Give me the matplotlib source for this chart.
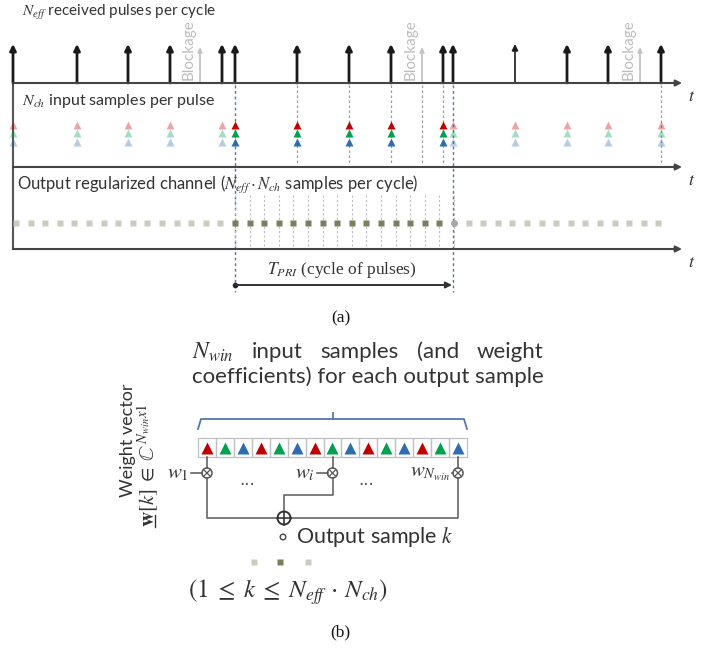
"""Pulse-to-regularized-channel diagram: (a) timing rows, (b) window weighting."""
import matplotlib

matplotlib.use("Agg")
import matplotlib.pyplot as plt
from matplotlib.patches import Circle, Rectangle

plt.rcParams["mathtext.fontset"] = "stix"
SANS = ["Lato", "DejaVu Sans"]
SERIF = ["Liberation Serif", "DejaVu Serif"]
INK = "#333333"

# ---- data (pixel positions along t) ----
PULSE_T = [13, 77, 128, 170, 222, 235, 297, 349, 391, 443, 453, 515, 567, 608, 661]
PULSE_LW = [2.0, 2.0, 2.0, 2.0, 2.0, 2.0, 2.0, 2.0, 2.0, 2.0, 2.0, 1.2, 2.0, 2.0, 2.0]
BLOCKAGE_T = [200, 422, 640]
CYCLE = (235, 453)
GUIDE_T = [297, 349, 391, 422, 443, 661]          # grey dashed guides in the cycle
CH_COLORS = ["#c00000", "#00a050", "#2e6db4"]      # N_ch = 3 channels
N_BEFORE, N_CYCLE, N_AFTER = 15, 15, 14             # output samples
OUT_STEP = 14.6
WIN_CHANNELS = [0, 1, 2] * 5                        # N_win = 15 window cells
TAPS = [0, 7, 14]
TAP_LABELS = [r"$w_1$", r"$w_i$", r"$w_{N_{win}}$"]
TAP_GAP = [20, 20, 10]

# ---- rows (y pixel) ----
Y_AX1, Y_AX2, Y_AX3 = 83, 167, 249
X0, X_END = 13, 682


def time_axis(ax, y):
    ax.annotate("", xy=(X_END, y), xytext=(X0, y),
                arrowprops=dict(arrowstyle="-|>", color="#444444", lw=1.5,
                                mutation_scale=9, shrinkA=0, shrinkB=0))
    ax.text(688, y + 13, r"$t$", fontsize=13, color=INK, ha="left", va="center")


def vline(ax, x, y1, y2, color="#9a9a9a", lw=0.9):
    ax.plot([x, x], [y1, y2], color=color, lw=lw, ls=(0, (2, 2)), zorder=1)


def otimes(ax, x, y, r=5):
    ax.add_patch(Circle((x, y), r, fill=False, ec="#555555", lw=1.1, zorder=3))
    d = r * 0.55
    ax.plot([x - d, x + d], [y - d, y + d], color="#555555", lw=0.9, zorder=3)
    ax.plot([x - d, x + d], [y + d, y - d], color="#555555", lw=0.9, zorder=3)


def oplus(ax, x, y, r=6.5):
    ax.add_patch(Circle((x, y), r, fill=False, ec="#333333", lw=1.4, zorder=3))
    ax.plot([x - r, x + r], [y, y], color="#333333", lw=1.2, zorder=3)
    ax.plot([x, x], [y - r, y + r], color="#333333", lw=1.2, zorder=3)


def draw_part_a(ax):
    in_cycle = [CYCLE[0] <= t < CYCLE[1] for t in PULSE_T]

    # row 1: received pulses
    ax.text(22, 13, r"$N_{eff}$ received pulses per cycle", fontsize=11,
            family=SANS, color=INK, va="center")
    for t, lw in zip(PULSE_T, PULSE_LW):
        ax.annotate("", xy=(t, 44), xytext=(t, Y_AX1),
                    arrowprops=dict(arrowstyle="-|>", color="#1a1a1a", lw=lw,
                                    mutation_scale=9, shrinkA=0, shrinkB=0))
    for t in BLOCKAGE_T:
        ax.annotate("", xy=(t, 47), xytext=(t, Y_AX1),
                    arrowprops=dict(arrowstyle="-|>", color="#c4c4c4", lw=1.3,
                                    mutation_scale=7, shrinkA=0, shrinkB=0))
        ax.text(t - 11, 50, "Blockage", rotation=90, fontsize=11, family=SANS,
                color="#bdbdbd", ha="center", va="center")

    # left frame
    ax.plot([X0, X0], [Y_AX1, Y_AX3], color="#555555", lw=1.5)
    for y in (Y_AX1, Y_AX2, Y_AX3):
        time_axis(ax, y)

    # guides
    for t in GUIDE_T:
        vline(ax, t, Y_AX1 + 2, Y_AX2 - 3)
    for t in CYCLE:
        vline(ax, t, Y_AX1 + 2, 292, color="#5a6f9c", lw=1.0)

    # row 2: input samples per pulse
    ax.text(22, 101, r"$N_{ch}$ input samples per pulse", fontsize=11.5,
            family=SANS, color=INK, va="center")
    for t, inside in zip(PULSE_T, in_cycle):
        for c, y in zip(CH_COLORS, (125, 133, 142)):
            ax.plot(t, y, marker="^", ms=5.5, color=c, mec="none",
                    alpha=1.0 if inside else 0.35, zorder=4)

    # row 3: regularized output samples
    ax.text(17, 184, r"Output regularized channel ($N_{eff}\cdot N_{ch}$ samples per cycle)",
            fontsize=12, family=SANS, color=INK, va="center")
    x_before = [CYCLE[0] - OUT_STEP * (i + 1) for i in range(N_BEFORE)]
    x_cycle = [CYCLE[0] + OUT_STEP * i for i in range(N_CYCLE)]
    x_after = [CYCLE[0] + OUT_STEP * (N_CYCLE + i) for i in range(N_AFTER + 1)]
    for x in x_cycle + x_after[:1]:
        vline(ax, x, 195, Y_AX3 - 1, color="#bdbdbd", lw=0.8)
    ax.plot(x_before, [223] * len(x_before), "s", ms=4.6, color="#cbccbd", mec="none")
    ax.plot(x_after[1:], [223] * (len(x_after) - 1), "s", ms=4.6, color="#cbccbd", mec="none")
    ax.plot(x_cycle, [223] * len(x_cycle), "s", ms=4.8, color="#7b7f5c", mec="none", zorder=4)
    ax.plot(x_after[0], 223, "o", ms=5, color="#a8a8a8", mec="none", zorder=4)

    # T_PRI span
    ax.annotate("", xy=(CYCLE[1] - 1, 285), xytext=(CYCLE[0], 285),
                arrowprops=dict(arrowstyle="-|>", color="#333333", lw=1.4,
                                mutation_scale=9, shrinkA=0, shrinkB=0))
    ax.plot(CYCLE[0], 285, "o", ms=3, color="#222222")
    ax.text((CYCLE[0] + CYCLE[1]) / 2 - 2, 270, r"$T_{PRI}$ (cycle of pulses)",
            fontsize=12.5, family=SERIF, color=INK, ha="center", va="center")
    ax.text(341, 318, "(a)", fontsize=12.5, family=SERIF, color="#111111",
            ha="center", va="center")


def draw_part_b(ax, renderer):
    # heading: two justified lines
    y1, y2 = 352, 377
    line2 = ax.text(192, y2, "coefficients) for each output sample", fontsize=16,
                    family=SANS, color=INK, va="center")
    right_edge = line2.get_window_extent(renderer).x1
    words = [ax.text(0, y1, r"$N_{win}$", fontsize=17, color=INK, va="center")]
    words += [ax.text(0, y1, w, fontsize=16, family=SANS, color=INK, va="center")
              for w in ["input", "samples", "(and", "weight"]]
    widths = [w.get_window_extent(renderer).width for w in words]
    gap = (right_edge - 192 - sum(widths)) / (len(words) - 1)
    x = 192
    for w, wd in zip(words, widths):
        w.set_x(x)
        x += wd + gap

    # brace
    left, right = 198, 467
    bc = "#5577a8"
    ax.plot([left, left + 3, right - 3, right], [429, 419, 419, 429], color=bc, lw=1.3)
    mid = (left + right) / 2
    ax.plot([mid, mid], [419, 413], color=bc, lw=1.3)

    # window cells
    n = len(WIN_CHANNELS)
    cw = (right - left) / n
    for i, ch in enumerate(WIN_CHANNELS):
        cx = left + i * cw
        ax.add_patch(Rectangle((cx, 438), cw, 19, fill=False, ec="#c0c0c0", lw=0.9))
        ax.plot(cx + cw / 2, 448, marker="^", ms=8, color=CH_COLORS[ch], mec="none")

    # taps
    y_tap = 473
    tap_x = [left + (i + 0.5) * cw for i in TAPS]
    for tx, lab, g in zip(tap_x, TAP_LABELS, TAP_GAP):
        ax.plot([tx, tx], [457, y_tap - 5], color="#555555", lw=1.1)
        otimes(ax, tx, y_tap)
        ax.plot([tx - g + 4, tx - 5], [y_tap, y_tap], color="#555555", lw=1.1)
        ax.text(tx - g + 2, y_tap, lab, fontsize=15, color=INK, ha="right", va="center")
    ax.text(247, 480, "...", fontsize=12, color="#555555", ha="center", va="center")
    ax.text(366, 480, "...", fontsize=12, color="#555555", ha="center", va="center")

    # summation network
    sx, sy = 284, 518
    lc = "#666666"
    ax.plot([tap_x[0], tap_x[0], sx - 6.5], [y_tap + 5, sy, sy], color=lc, lw=1.2)
    ax.plot([tap_x[2], tap_x[2], sx + 6.5], [y_tap + 5, sy, sy], color=lc, lw=1.2)
    ax.plot([tap_x[1], tap_x[1], sx, sx], [y_tap + 5, 495, 495, sy - 6.5], color=lc, lw=1.2)
    oplus(ax, sx, sy)
    ax.add_patch(Circle((sx - 1, 537), 2.8, fill=False, ec="#444444", lw=1.0))
    ax.text(296, 537, r"Output sample $k$", fontsize=15.5, family=SANS, color=INK,
            va="center")

    ax.plot([254, 308], [562, 562], "s", ms=4.5, color="#cbccbd", mec="none")
    ax.plot(280, 562, "s", ms=4.8, color="#7b7f5c", mec="none")
    ax.text(188, 592, r"$(1\;\leq\;k\;\leq\;N_{eff}\,\cdot\,N_{ch})$", fontsize=18,
            color=INK, va="center")

    # weight vector label (rotated, left of the taps)
    ax.text(128, 440, "Weight vector", rotation=90, fontsize=13, family=SANS,
            color=INK, ha="center", va="center")
    ax.text(148, 527, r"$\mathbf{w}[k]\;\in\;\mathbb{C}^{N_{win}x1}$", rotation=90,
            fontsize=15, color=INK, ha="center", va="bottom")
    ax.plot([155, 155], [527, 515], color=INK, lw=1.0)   # underline of w

    ax.text(340, 632, "(b)", fontsize=12.5, family=SERIF, color="#111111",
            ha="center", va="center")


def main():
    fig = plt.figure(figsize=(7.21, 6.51), dpi=100)
    ax = fig.add_axes([0, 0, 1, 1])
    ax.set_xlim(0, 721)
    ax.set_ylim(651, 0)
    ax.axis("off")
    renderer = fig.canvas.get_renderer()
    draw_part_a(ax)
    draw_part_b(ax, renderer)
    fig.savefig("out.png", dpi=100, facecolor="white")


if __name__ == "__main__":
    main()
